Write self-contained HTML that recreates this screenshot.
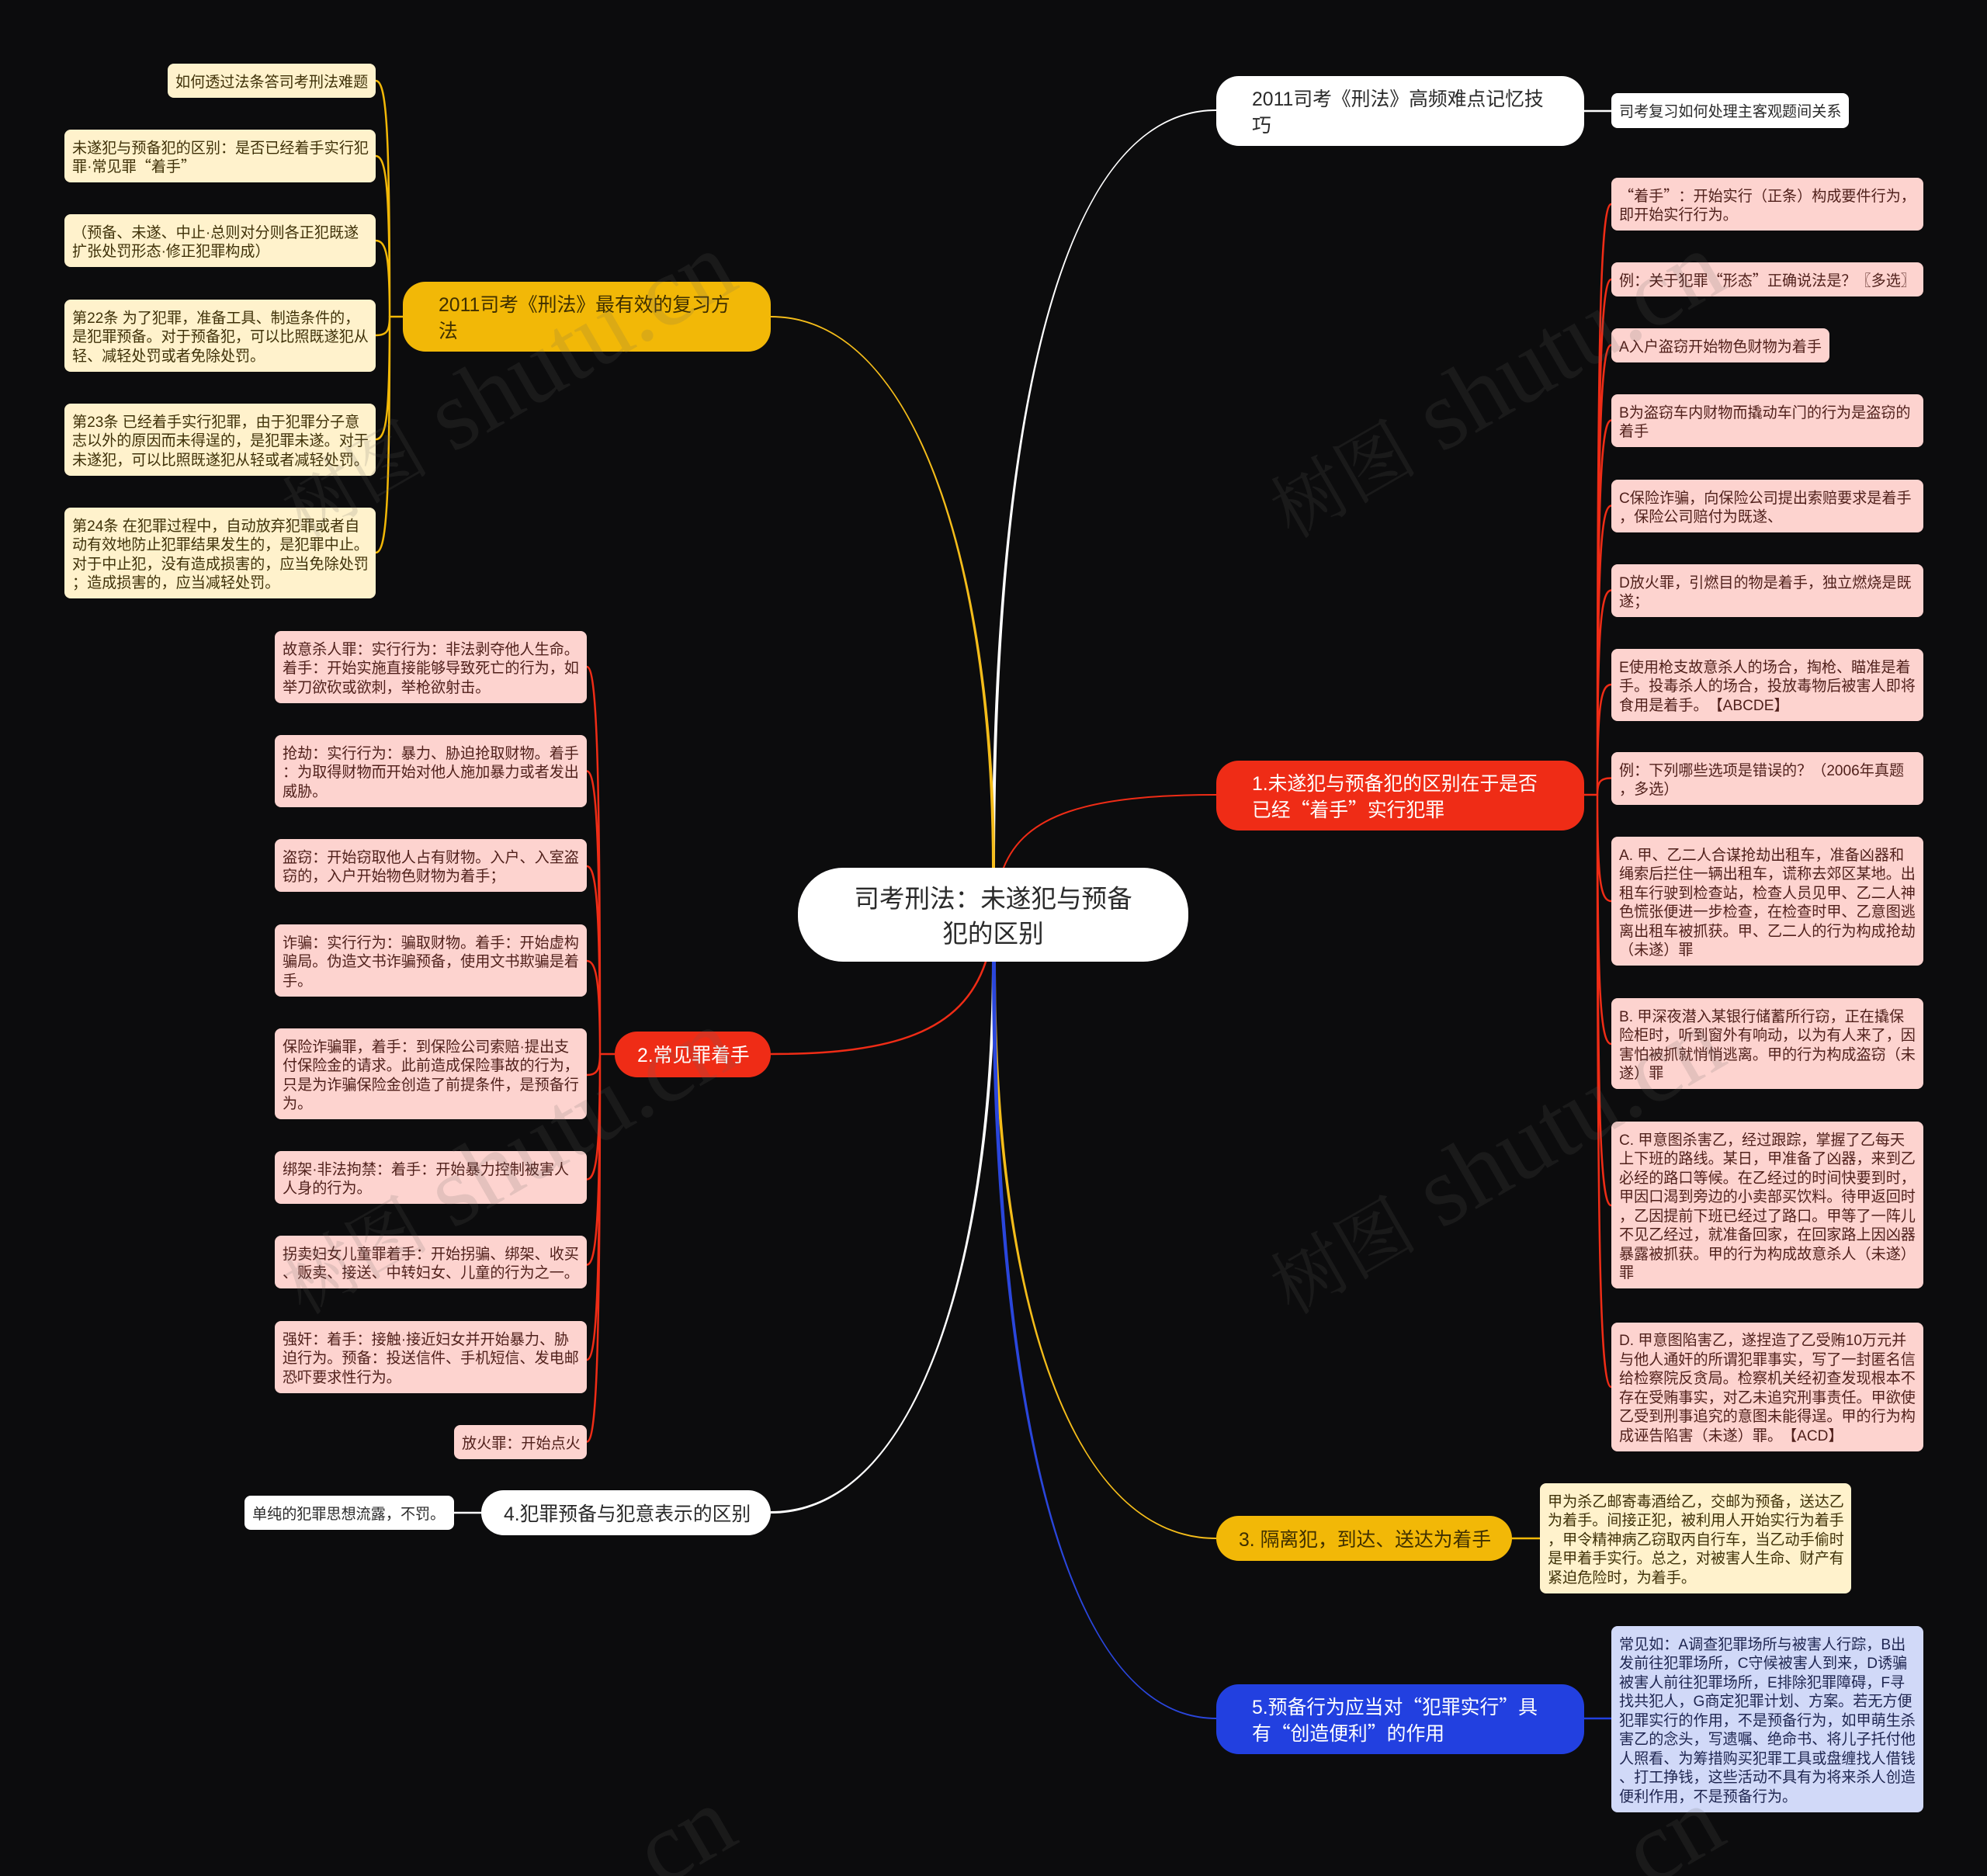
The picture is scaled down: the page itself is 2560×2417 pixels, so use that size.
<!DOCTYPE html>
<html lang="zh"><head><meta charset="utf-8"><title>司考刑法：未遂犯与预备犯的区别</title>
<style>
html,body{margin:0;padding:0;background:#0c0c0d}
#p{position:relative;width:2560px;height:2417px;overflow:hidden;background:#0c0c0d;font-family:"Liberation Sans","Noto Sans CJK SC",sans-serif;text-spacing-trim:space-all}
svg{position:absolute;left:0;top:0}
i{font-style:normal;font-family:"Noto Sans CJK SC",sans-serif;line-height:0}
.n{position:absolute;box-sizing:border-box;white-space:nowrap}
.l{font-size:19.1px;line-height:24.5px;padding:12.5px 10px 6.5px;border-radius:8px}
.y{background:#fff2cc;color:#3f3108}
.r{background:#fdd3cf;color:#50201b}
.b{background:#d1d9f8;color:#1e2550}
.w{background:#fff;color:#2a2a2a}
.m{font-size:24.8px;line-height:33.5px;display:flex;align-items:center;padding-left:46px;padding-top:5px;border-radius:29px}
.m.s{padding-left:29px}
</style></head><body><div id="p">
<svg width="2560" height="2417" fill="none" stroke-width="2.5" stroke-linecap="round">
<g stroke="#ef2c16"><path stroke-width="2" d="M1293 1118C1320 1050 1400 1024 1567 1024"/><path d="M993 1358C1150 1358 1240 1330 1270 1239"/>
<path d="M2041 1024H2058"/><path d="M2058 1024C2058 415 2062 263 2076 263M2058 1024C2058 493 2062 360 2076 360M2058 1024C2058 560 2062 444.5 2076 444.5M2058 1024C2058 638 2062 541.5 2076 541.5M2058 1024C2058 726 2062 651.5 2076 651.5M2058 1024C2058 813 2062 760.5 2076 760.5M2058 1024C2058 910 2062 882 2076 882M2058 1024C2058 1007 2062 1002.5 2076 1002.5M2058 1024C2058 1134 2062 1161 2076 1161M2058 1024C2058 1281 2062 1345 2076 1345M2058 1024C2058 1447 2062 1553 2076 1553M2058 1024C2058 1634 2062 1787 2076 1787"/>
<path d="M792 1358H773"/><path d="M773 1358C773 959 768 859 756 859M773 1358C773 1066 768 993.5 756 993.5M773 1358C773 1164 768 1116 756 1116M773 1358C773 1262 768 1238 756 1238M773 1358C773 1380 768 1385 756 1385M773 1358C773 1487 768 1519.5 756 1519.5M773 1358C773 1575 768 1629.5 756 1629.5M773 1358C773 1673 768 1752 756 1752M773 1358C773 1760 768 1857.5 756 1857.5"/></g>
<g stroke="none" fill="#fff"><path d="M1278 1118C1278 560 1360 141 1567 141L1567 143C1360 143 1282 560 1282 1118Z"/><path d="M1278 1239C1278 1600 1190 1947 993 1947L993 1950C1190 1950 1282 1600 1282 1239Z"/></g>
<path stroke="#fff" d="M2041 143H2076M620 1949H585"/>
<g stroke="none" fill="#f5bd1a"><path d="M1282 1118C1282 760 1190 407 993 407L993 409C1190 409 1278 760 1278 1118Z"/><path d="M1283 1239C1283 1650 1370 1981 1567 1981L1567 1983C1370 1983 1279 1650 1279 1239Z"/></g>
<g stroke="#f2b807"><path d="M1948 1982H1984"/>
<path d="M519 408H502"/><path d="M502 408C502 165 498 104 484 104M502 408C502 242 498 201 484 201M502 408C502 330 498 310 484 310M502 408C502 427 498 432 484 432M502 408C502 534 498 566 484 566M502 408C502 651 498 712 484 712"/></g>
<path stroke="none" fill="#2a46dc" d="M1283 1239C1283 1750 1355 2213 1567 2213L1567 2215C1355 2215 1278 1750 1278 1239Z"/>
<path stroke="#2240e0" d="M2041 2214H2076"/>
</svg>

<div class="n w" style="left:1028px;top:1118px;width:503px;height:121px;border-radius:58px;font-size:32.6px;line-height:45px;text-align:center;padding-top:17px">司考刑法：未遂犯与预备<br>犯的区别</div>

<div class="n m w" style="left:1567px;top:98px;width:474px;height:90px"><span>2011司考《刑法》高频难点记忆技<br>巧</span></div>
<div class="n m" style="left:1567px;top:980px;width:474px;height:90px;background:#ef2c16;color:#fff"><span>1.未遂犯与预备犯的区别在于是否<br>已经<i>“</i>着手<i>”</i>实行犯罪</span></div>
<div class="n m s" style="left:1567px;top:1953px;width:381px;height:58px;background:#f2b807;color:#3f2f00"><span>3. 隔离犯，到达、送达为着手</span></div>
<div class="n m" style="left:1567px;top:2170px;width:474px;height:90px;background:#2240e0;color:#fff"><span>5.预备行为应当对<i>“</i>犯罪实行<i>”</i>具<br>有<i>“</i>创造便利<i>”</i>的作用</span></div>
<div class="n m" style="left:519px;top:363px;width:474px;height:90px;background:#f2b807;color:#3f2f00"><span>2011司考《刑法》最有效的复习方<br>法</span></div>
<div class="n m s" style="left:792px;top:1329px;width:201px;height:59px;background:#ef2c16;color:#fff"><span>2.常见罪着手</span></div>
<div class="n m s" style="left:620px;top:1920px;width:373px;height:58px;background:#fff;color:#2a2a2a"><span>4.犯罪预备与犯意表示的区别</span></div>

<div class="n l w" style="left:2076px;top:120px;width:306px;height:45px">司考复习如何处理主客观题间关系</div>
<div class="n l r" style="left:2076px;top:229px;width:402px"><i>“</i>着手<i>”</i>：开始实行（正条）构成要件行为，<br>即开始实行行为。</div>
<div class="n l r" style="left:2076px;top:338px;width:402px">例：关于犯罪<i>“</i>形态<i>”</i>正确说法是？〖多选〗</div>
<div class="n l r" style="left:2076px;top:423px;width:281px">A入户盗窃开始物色财物为着手</div>
<div class="n l r" style="left:2076px;top:508px;width:402px">B为盗窃车内财物而撬动车门的行为是盗窃的<br>着手</div>
<div class="n l r" style="left:2076px;top:618px;width:402px">C保险诈骗，向保险公司提出索赔要求是着手<br>，保险公司赔付为既遂、</div>
<div class="n l r" style="left:2076px;top:727px;width:402px">D放火罪，引燃目的物是着手，独立燃烧是既<br>遂；</div>
<div class="n l r" style="left:2076px;top:836px;width:402px">E使用枪支故意杀人的场合，掏枪、瞄准是着<br>手。投毒杀人的场合，投放毒物后被害人即将<br>食用是着手。【ABCDE】</div>
<div class="n l r" style="left:2076px;top:969px;width:402px">例：下列哪些选项是错误的？（2006年真题<br>，多选）</div>
<div class="n l r" style="left:2076px;top:1078px;width:402px">A. 甲、乙二人合谋抢劫出租车，准备凶器和<br>绳索后拦住一辆出租车，谎称去郊区某地。出<br>租车行驶到检查站，检查人员见甲、乙二人神<br>色慌张便进一步检查，在检查时甲、乙意图逃<br>离出租车被抓获。甲、乙二人的行为构成抢劫<br>（未遂）罪</div>
<div class="n l r" style="left:2076px;top:1286px;width:402px">B. 甲深夜潜入某银行储蓄所行窃，正在撬保<br>险柜时，听到窗外有响动，以为有人来了，因<br>害怕被抓就悄悄逃离。甲的行为构成盗窃（未<br>遂）罪</div>
<div class="n l r" style="left:2076px;top:1445px;width:402px">C. 甲意图杀害乙，经过跟踪，掌握了乙每天<br>上下班的路线。某日，甲准备了凶器，来到乙<br>必经的路口等候。在乙经过的时间快要到时，<br>甲因口渴到旁边的小卖部买饮料。待甲返回时<br>，乙因提前下班已经过了路口。甲等了一阵儿<br>不见乙经过，就准备回家，在回家路上因凶器<br>暴露被抓获。甲的行为构成故意杀人（未遂）<br>罪</div>
<div class="n l r" style="left:2076px;top:1703.5px;width:402px">D. 甲意图陷害乙，遂捏造了乙受贿10万元并<br>与他人通奸的所谓犯罪事实，写了一封匿名信<br>给检察院反贪局。检察机关经初查发现根本不<br>存在受贿事实，对乙未追究刑事责任。甲欲使<br>乙受到刑事追究的意图未能得逞。甲的行为构<br>成诬告陷害（未遂）罪。【ACD】</div>
<div class="n l y" style="left:1984px;top:1911px;width:401px">甲为杀乙邮寄毒酒给乙，交邮为预备，送达乙<br>为着手。间接正犯，被利用人开始实行为着手<br>，甲令精神病乙窃取丙自行车，当乙动手偷时<br>是甲着手实行。总之，对被害人生命、财产有<br>紧迫危险时，为着手。</div>
<div class="n l b" style="left:2076px;top:2095px;width:402px">常见如：A调查犯罪场所与被害人行踪，B出<br>发前往犯罪场所，C守候被害人到来，D诱骗<br>被害人前往犯罪场所，E排除犯罪障碍，F寻<br>找共犯人，G商定犯罪计划、方案。若无方便<br>犯罪实行的作用，不是预备行为，如甲萌生杀<br>害乙的念头，写遗嘱、绝命书、将儿子托付他<br>人照看、为筹措购买犯罪工具或盘缠找人借钱<br>、打工挣钱，这些活动不具有为将来杀人创造<br>便利作用，不是预备行为。</div>

<div class="n l y" style="left:216px;top:82px;width:268px">如何透过法条答司考刑法难题</div>
<div class="n l y" style="left:83px;top:167px;width:401px">未遂犯与预备犯的区别：是否已经着手实行犯<br>罪·常见罪<i>“</i>着手<i>”</i></div>
<div class="n l y" style="left:83px;top:276px;width:401px">（预备、未遂、中止·总则对分则各正犯既遂<br>扩张处罚形态·修正犯罪构成）</div>
<div class="n l y" style="left:83px;top:386px;width:401px">第22条 为了犯罪，准备工具、制造条件的，<br>是犯罪预备。对于预备犯，可以比照既遂犯从<br>轻、减轻处罚或者免除处罚。</div>
<div class="n l y" style="left:83px;top:520px;width:401px">第23条 已经着手实行犯罪，由于犯罪分子意<br>志以外的原因而未得逞的，是犯罪未遂。对于<br>未遂犯，可以比照既遂犯从轻或者减轻处罚。</div>
<div class="n l y" style="left:83px;top:654px;width:401px">第24条 在犯罪过程中，自动放弃犯罪或者自<br>动有效地防止犯罪结果发生的，是犯罪中止。<br>对于中止犯，没有造成损害的，应当免除处罚<br>；造成损害的，应当减轻处罚。</div>

<div class="n l r" style="left:354px;top:813px;width:402px">故意杀人罪：实行行为：非法剥夺他人生命。<br>着手：开始实施直接能够导致死亡的行为，如<br>举刀欲砍或欲刺，举枪欲射击。</div>
<div class="n l r" style="left:354px;top:947px;width:402px">抢劫：实行行为：暴力、胁迫抢取财物。着手<br>：为取得财物而开始对他人施加暴力或者发出<br>威胁。</div>
<div class="n l r" style="left:354px;top:1081px;width:402px">盗窃：开始窃取他人占有财物。入户、入室盗<br>窃的，入户开始物色财物为着手；</div>
<div class="n l r" style="left:354px;top:1191px;width:402px">诈骗：实行行为：骗取财物。着手：开始虚构<br>骗局。伪造文书诈骗预备，使用文书欺骗是着<br>手。</div>
<div class="n l r" style="left:354px;top:1325px;width:402px">保险诈骗罪，着手：到保险公司索赔·提出支<br>付保险金的请求。此前造成保险事故的行为，<br>只是为诈骗保险金创造了前提条件，是预备行<br>为。</div>
<div class="n l r" style="left:354px;top:1483px;width:402px">绑架·非法拘禁：着手：开始暴力控制被害人<br>人身的行为。</div>
<div class="n l r" style="left:354px;top:1592px;width:402px">拐卖妇女儿童罪着手：开始拐骗、绑架、收买<br>、贩卖、接送、中转妇女、儿童的行为之一。</div>
<div class="n l r" style="left:354px;top:1702px;width:402px">强奸：着手：接触·接近妇女并开始暴力、胁<br>迫行为。预备：投送信件、手机短信、发电邮<br>恐吓要求性行为。</div>
<div class="n l r" style="left:585px;top:1836px;width:171px">放火罪：开始点火</div>
<div class="n l w" style="left:315px;top:1927px;width:270px">单纯的犯罪思想流露，不罚。</div>

<svg width="2560" height="2417" style="pointer-events:none" fill="#646464" fill-opacity=".16" font-family="'Liberation Serif','Noto Serif CJK SC',serif" font-size="128">
<text transform="translate(390.5 695) rotate(-30)"><tspan font-size="95">树图</tspan> shutu.cn</text>
<text transform="translate(1664 695) rotate(-30)"><tspan font-size="95">树图</tspan> shutu.cn</text>
<text transform="translate(390.5 1695) rotate(-30)"><tspan font-size="95">树图</tspan> shutu.cn</text>
<text transform="translate(1664 1695) rotate(-30)"><tspan font-size="95">树图</tspan> shutu.cn</text>
<text transform="translate(850.4 2432.5) rotate(-30)">cn</text>
<text transform="translate(2123.9 2432.5) rotate(-30)">cn</text>
</svg>
</div></body></html>
